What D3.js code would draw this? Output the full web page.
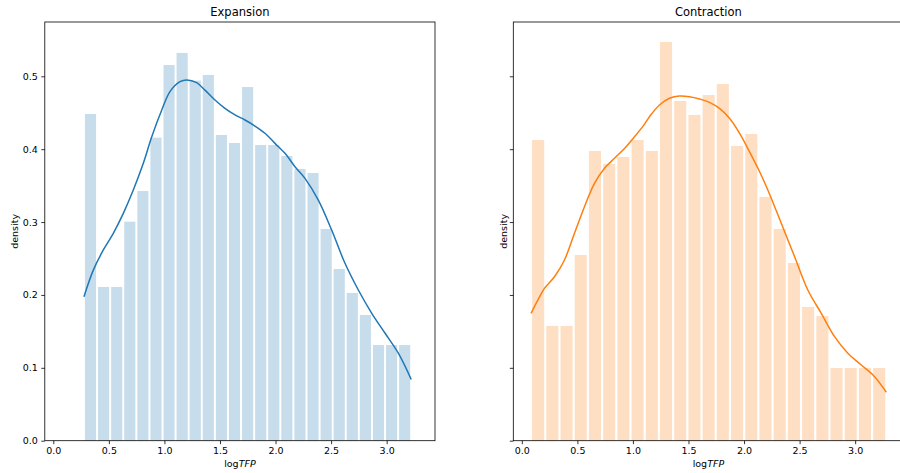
<!DOCTYPE html>
<html><head><meta charset="utf-8">
<script src="https://cdn.jsdelivr.net/npm/d3@7"></script>
<style>body{margin:0;background:#fff}svg{display:block}text{font-family:"DejaVu Sans",sans-serif;fill:#000}</style>
</head><body><svg id="c" width="900" height="473"></svg>
<script>
const titles = ["Expansion", "Contraction"];
const colors = ["#1f77b4", "#ff7f0e"];
const yTicks = [0.0, 0.1, 0.2, 0.3, 0.4, 0.5];
const xTicks = [0.0, 0.5, 1.0, 1.5, 2.0, 2.5, 3.0];
// histogram bins: data min/max, 25 bins each
const expRange = [0.276, 3.221];
const conRange = [0.083, 3.28];
const expDensity = [0.4483,0.2109,0.2109,0.3005,0.3426,0.4158,0.5155,0.532,0.494,0.5018,0.4195,0.4085,0.4853,0.4057,0.4057,0.3906,0.3728,0.3673,0.2905,0.2356,0.2027,0.1725,0.1313,0.1313,0.1313];
const conDensity = [0.4126,0.1574,0.1574,0.2548,0.3975,0.3797,0.3893,0.4126,0.3975,0.547,0.4661,0.447,0.4743,0.4894,0.4044,0.4208,0.3344,0.2905,0.2438,0.1835,0.1711,0.0998,0.0998,0.0998,0.0998];
// KDE curves
const expKdeX = [0.276,0.36,0.45,0.54,0.63,0.72,0.81,0.886,0.976,1.05,1.14,1.20,1.29,1.365,1.455,1.545,1.635,1.725,1.815,1.905,1.995,2.085,2.175,2.265,2.385,2.505,2.625,2.745,2.866,2.986,3.105,3.221];
const expKdeY = [0.1976,0.234,0.2617,0.2846,0.312,0.344,0.3806,0.417,0.4537,0.479,0.4926,0.495,0.4913,0.481,0.4675,0.456,0.447,0.440,0.4318,0.4218,0.408,0.3943,0.376,0.36,0.330,0.289,0.2434,0.2068,0.1748,0.1474,0.12,0.0840];
const conKdeX = [0.083,0.144,0.204,0.294,0.384,0.474,0.564,0.654,0.744,0.834,0.924,1.014,1.098,1.149,1.239,1.329,1.419,1.509,1.599,1.689,1.779,1.869,1.96,2.049,2.133,2.214,2.335,2.455,2.574,2.695,2.815,2.934,3.055,3.175,3.28];
const conKdeY = [0.1748,0.193,0.209,0.225,0.248,0.2846,0.321,0.353,0.3738,0.3875,0.401,0.417,0.433,0.4446,0.4606,0.4698,0.473,0.472,0.4689,0.4643,0.456,0.4424,0.4218,0.3966,0.3714,0.344,0.2983,0.2525,0.2068,0.1748,0.1427,0.12,0.1039,0.0878,0.0665];

const panels = [
  {title: titles[0], color: colors[0], range: expRange, dens: expDensity, kx: expKdeX, ky: expKdeY, left: 44.8, right: 435, yLabels: true, labelX: 15},
  {title: titles[1], color: colors[1], range: conRange, dens: conDensity, kx: conKdeX, ky: conKdeY, left: 513.3, right: 903.5, yLabels: false, labelX: 504}
];
const plotTop = 22, plotBottom = 440.7;
const svg = d3.select("#c");
const y = d3.scaleLinear().domain([0, 0.5745]).range([plotBottom, plotTop]);

panels.forEach(p => {
  const x = d3.scaleLinear().domain([-0.0765, 3.435]).range([p.left, p.right]);
  const g = svg.append("g");
  const n = p.dens.length;
  const bw = (p.range[1] - p.range[0]) / n;
  const rw = 0.85 * bw;
  g.selectAll("rect.bar").data(p.dens).join("rect")
    .attr("x", (d, i) => x(p.range[0] + (i + 0.5) * bw - rw / 2))
    .attr("width", (d, i) => x(p.range[0] + (i + 0.5) * bw + rw / 2) - x(p.range[0] + (i + 0.5) * bw - rw / 2))
    .attr("y", d => y(d))
    .attr("height", d => y(0) - y(d))
    .attr("fill", p.color).attr("fill-opacity", 0.25);
  const pts = p.kx.map((v, i) => [v, p.ky[i]]);
  g.append("path").datum(pts)
    .attr("d", d3.line().x(d => x(d[0])).y(d => y(d[1])).curve(d3.curveCatmullRom))
    .attr("fill", "none").attr("stroke", p.color).attr("stroke-width", 1.5);
  // axes
  const ax = g.append("g").attr("transform", `translate(0,${plotBottom})`)
    .call(d3.axisBottom(x).tickValues(xTicks).tickFormat(d3.format(".1f")).tickSizeOuter(0).tickSize(3.5).tickPadding(3));
  const ay = g.append("g").attr("transform", `translate(${p.left},0)`)
    .call(d3.axisLeft(y).tickValues(yTicks).tickFormat(p.yLabels ? d3.format(".1f") : () => "").tickSizeOuter(0).tickSize(3.5).tickPadding(3.5));
  [ax, ay].forEach(a => {
    a.select(".domain").remove();
    a.selectAll("line").attr("stroke", "#000").attr("stroke-width", 0.8);
    a.selectAll("text").style("font-size", "9.5px").style("font-family", '"DejaVu Sans",sans-serif').attr("fill", "#000");
  });
  g.append("rect").attr("x", p.left).attr("y", plotTop).attr("width", p.right - p.left).attr("height", plotBottom - plotTop)
    .attr("fill", "none").attr("stroke", "#000").attr("stroke-width", 0.8);
  g.append("text").attr("x", (p.left + p.right) / 2).attr("y", 16).attr("text-anchor", "middle")
    .style("font-size", "11.5px").text(p.title);
  const xl = g.append("text").attr("x", (p.left + p.right) / 2).attr("y", 467).attr("text-anchor", "middle").style("font-size", "9.5px");
  xl.append("tspan").text("log");
  xl.append("tspan").style("font-style", "italic").text("TFP");
  g.append("text").attr("transform", `translate(${p.labelX},${(plotTop + plotBottom) / 2}) rotate(-90)`).attr("text-anchor", "middle")
    .attr("dy", "0.35em").style("font-size", "9.5px").text("density");
});
</script></body></html>
